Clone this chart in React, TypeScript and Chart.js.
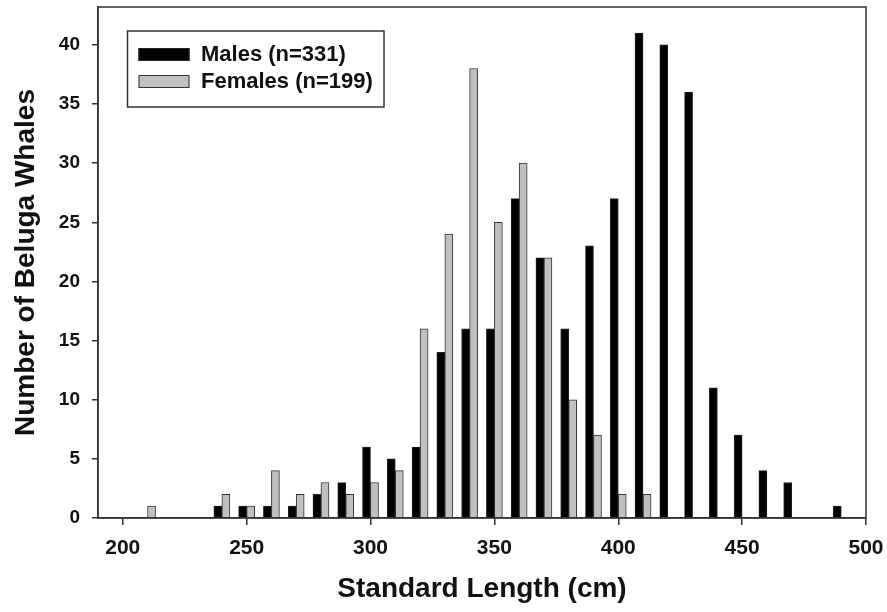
import React, { useEffect, useRef } from "react";
import { Chart, registerables } from "chart.js";

Chart.register(...registerables);

// Standard length bins (cm)
const lengthBins = [210, 220, 230, 240, 250, 260, 270, 280, 290, 300, 310, 320, 330, 340, 350, 360, 370, 380, 390, 400, 410, 420, 430, 440, 450, 460, 470, 480, 490];
const maleCounts = [0, 0, 0, 1, 1, 1, 1, 2, 3, 6, 5, 6, 14, 16, 16, 27, 22, 16, 23, 27, 41, 40, 36, 11, 7, 4, 3, 0, 1];
const femaleCounts = [1, 0, 0, 2, 1, 4, 2, 3, 2, 3, 4, 16, 24, 38, 25, 30, 22, 10, 7, 2, 2, 0, 0, 0, 0, 0, 0, 0, 0];
const xTicks = [200, 250, 300, 350, 400, 450, 500];
const yTicks = [0, 5, 10, 15, 20, 25, 30, 35, 40];
const seriesLabels = ["Males (n=331)", "Females (n=199)"];
const xTitle = "Standard Length (cm)";
const yTitle = "Number of Beluga Whales";

const FONT = '"Liberation Sans", Arial, Helvetica, sans-serif';
const AXIS = "#333";

const toPoints = (counts: number[]) =>
  lengthBins.map((x, i) => ({ x, y: counts[i] })).filter((p) => p.y > 0);

const zeroPadding = (s: any) => {
  s.paddingTop = 0;
  s.paddingBottom = 0;
  s.paddingLeft = 0;
  s.paddingRight = 0;
};

const framePlugin = {
  id: "frame",
  afterDatasetsDraw(chart: any) {
    const { ctx, chartArea: a } = chart;
    ctx.save();
    ctx.strokeStyle = AXIS;
    ctx.lineWidth = 1.5;
    ctx.strokeRect(a.left, a.top, a.right - a.left, a.bottom - a.top);
    ctx.restore();
  },
};

const legendBoxPlugin = {
  id: "legendBox",
  afterDraw(chart: any) {
    const { ctx, chartArea: a } = chart;
    const bx = a.left + 29.5;
    const by = a.top + 24;
    const bw = 256.5;
    const bh = 76;
    ctx.save();
    ctx.fillStyle = "#fff";
    ctx.fillRect(bx, by, bw, bh);
    ctx.strokeStyle = AXIS;
    ctx.lineWidth = 1.5;
    ctx.strokeRect(bx, by, bw, bh);
    chart.data.datasets.forEach((ds: any, i: number) => {
      const sy = by + 17 + i * 27;
      ctx.fillStyle = ds.backgroundColor;
      ctx.fillRect(bx + 11, sy, 51, 13);
      ctx.strokeStyle = ds.borderColor;
      ctx.lineWidth = 1;
      ctx.strokeRect(bx + 11.5, sy + 0.5, 50, 12);
      ctx.fillStyle = "#111";
      ctx.font = `bold 22px ${FONT}`;
      ctx.textBaseline = "middle";
      ctx.textAlign = "left";
      ctx.fillText(ds.label, bx + 73.5, sy + 7);
    });
    ctx.restore();
  },
};

export default function App() {
  const ref = useRef<HTMLCanvasElement | null>(null);

  useEffect(() => {
    if (!ref.current) return;
    const chart = new Chart(ref.current, {
      type: "bar",
      data: {
        datasets: [
          {
            label: seriesLabels[0],
            data: toPoints(maleCounts) as any,
            backgroundColor: "#000000",
            borderColor: "#222222",
            borderWidth: 1,
            barThickness: 8,
          },
          {
            label: seriesLabels[1],
            data: toPoints(femaleCounts) as any,
            backgroundColor: "#c0c0c0",
            borderColor: "#333333",
            borderWidth: 1,
            barThickness: 8,
          },
        ],
      },
      options: {
        responsive: false,
        animation: false,
        devicePixelRatio: 1,
        layout: { padding: { top: 7, right: 21, left: 0, bottom: 0 } },
        plugins: {
          legend: { display: false },
          tooltip: { enabled: false },
        },
        scales: {
          x: {
            type: "linear",
            min: 190,
            max: 500,
            offset: false,
            grid: {
              display: true,
              offset: false,
              drawOnChartArea: false,
              drawTicks: true,
              tickLength: 7,
              tickColor: AXIS,
              lineWidth: 1.5,
            },
            border: { display: true, color: AXIS, width: 1.5 },
            ticks: {
              font: { family: FONT, size: 21, weight: "bold" },
              color: "#111",
              padding: 11,
              maxRotation: 0,
            },
            title: {
              display: true,
              text: xTitle,
              color: "#111",
              font: { family: FONT, size: 28, weight: "bold" },
              padding: { top: 0, bottom: 6 },
            },
            afterBuildTicks: (s: any) => {
              s.ticks = xTicks.map((v) => ({ value: v }));
            },
            afterFit: (s: any) => {
              s.height = 94;
              zeroPadding(s);
            },
          } as any,
          y: {
            type: "linear",
            min: 0,
            max: 43.2,
            grid: {
              display: true,
              drawOnChartArea: false,
              drawTicks: true,
              tickLength: 6,
              tickColor: AXIS,
              lineWidth: 1.5,
            },
            border: { display: true, color: AXIS, width: 1.5 },
            ticks: {
              font: { family: FONT, size: 19, weight: "bold" },
              color: "#111",
              padding: 12,
            },
            title: {
              display: true,
              text: yTitle,
              color: "#111",
              font: { family: FONT, size: 28, weight: "bold" },
              padding: { top: 9, bottom: 0 },
            },
            afterBuildTicks: (s: any) => {
              s.ticks = yTicks.map((v) => ({ value: v }));
            },
            afterFit: (s: any) => {
              s.width = 98;
              zeroPadding(s);
            },
          } as any,
        },
      },
      plugins: [framePlugin, legendBoxPlugin],
    });
    return () => chart.destroy();
  }, []);

  return (
    <div
      style={{
        position: "fixed",
        left: 0,
        top: 0,
        width: 887,
        height: 612,
        background: "#fff",
      }}
    >
      <canvas ref={ref} width={887} height={612} style={{ display: "block" }} />
    </div>
  );
}
